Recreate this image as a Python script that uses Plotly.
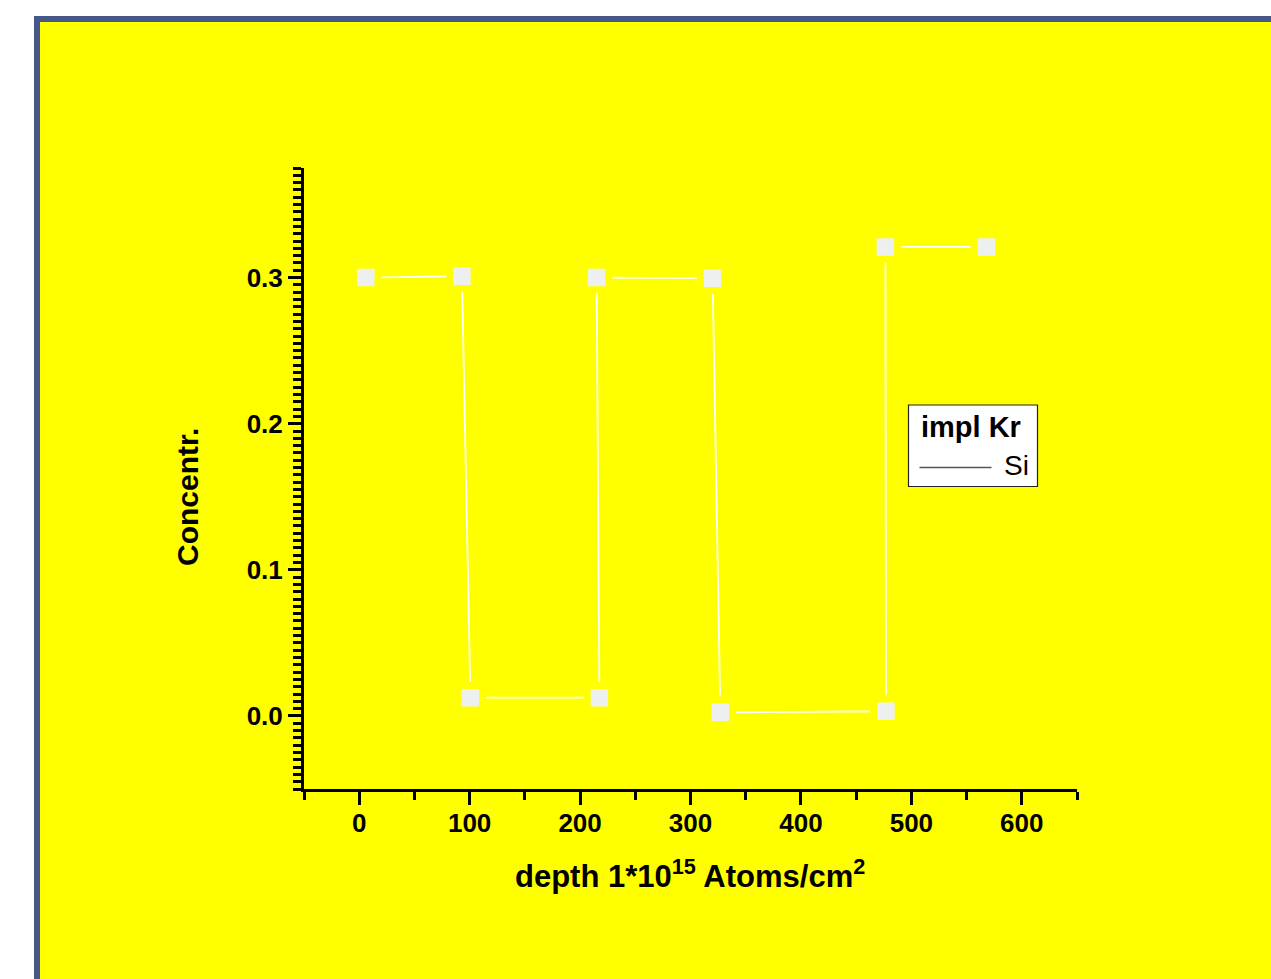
import plotly.graph_objects as go

# Depth profile of Si after Kr implantation
depth = [6, 93, 100.7, 217.5, 215, 320, 327, 477, 476.5, 568]
concentr = [0.300, 0.301, 0.0125, 0.0125, 0.300, 0.2996, 0.0025, 0.0032, 0.321, 0.321]

x_ticks = [0, 100, 200, 300, 400, 500, 600]
y_ticks = [0.0, 0.1, 0.2, 0.3]

W, H = 1271, 979
L, R, T, B = 304, 1077, 168, 789  # plot area in pixels

YELLOW = "#ffff00"
FRAME = "#46588a"
FONT = "Liberation Sans, Arial, sans-serif"


def px(x):
    return (x - L) / (R - L)


def py(y):
    return (B - y) / (B - T)


fig = go.Figure()

# line plus squares; the yellow marker outline leaves a gap around each point
fig.add_trace(go.Scatter(
    x=depth, y=concentr, mode="lines+markers",
    line=dict(color="#ffffff", width=1.8),
    marker=dict(symbol="square", size=24.5, color="#eef0f0",
                line=dict(color=YELLOW, width=7)),
    showlegend=False, hoverinfo="x+y",
))

shapes = [
    # dark frame and yellow page
    dict(type="rect", xref="paper", yref="paper", layer="below",
         x0=px(34), x1=px(W + 20), y0=py(16), y1=py(H + 20),
         fillcolor=FRAME, line=dict(width=0)),
    dict(type="rect", xref="paper", yref="paper", layer="below",
         x0=px(40), x1=px(W + 20), y0=py(22), y1=py(H + 20),
         fillcolor=YELLOW, line=dict(width=0)),
    # legend box
    dict(type="rect", xref="paper", yref="paper",
         x0=px(908.5), x1=px(1037.5), y0=py(405), y1=py(486.5),
         fillcolor="#ffffff", line=dict(color="#222222", width=1.2)),
    dict(type="line", xref="paper", yref="paper",
         x0=px(919.5), x1=px(991.5), y0=py(467.5), y1=py(467.5),
         line=dict(color="#555555", width=1.5)),
]

annotations = [
    dict(text="<b>impl Kr</b>", x=px(919), y=py(427), xref="paper", yref="paper",
         xanchor="left", yanchor="middle", showarrow=False,
         font=dict(family=FONT, size=29, color="#000000")),
    dict(text="Si", x=px(1031), y=py(465), xref="paper", yref="paper",
         xanchor="right", yanchor="middle", showarrow=False,
         font=dict(family=FONT, size=28, color="#000000")),
    dict(text="<b>depth 1*10<sup>15</sup> Atoms/cm<sup>2</sup></b>",
         x=px(690), y=py(874), xref="paper", yref="paper",
         xanchor="center", yanchor="middle", showarrow=False,
         font=dict(family=FONT, size=31, color="#000000")),
    dict(text="<b>Concentr.</b>", x=px(187), y=py(497), xref="paper", yref="paper",
         xanchor="center", yanchor="middle", showarrow=False, textangle=-90,
         font=dict(family=FONT, size=30, color="#000000")),
]

fig.update_layout(
    width=W, height=H,
    margin=dict(l=L, r=W - R, t=T, b=H - B, pad=0),
    paper_bgcolor="#ffffff",
    plot_bgcolor="rgba(0,0,0,0)",
    shapes=shapes,
    annotations=annotations,
    xaxis=dict(
        range=[-50, 650], tickmode="array", tickvals=x_ticks,
        ticktext=[str(v) for v in x_ticks],
        ticks="outside", ticklen=13, tickwidth=2.5, tickcolor="#000000",
        minor=dict(dtick=50, tick0=0, ticks="outside", ticklen=8,
                   tickwidth=2.5, tickcolor="#000000"),
        showline=True, linecolor="#000000", linewidth=3, mirror=False,
        showgrid=False, zeroline=False,
        tickfont=dict(family=FONT, size=26, color="#000000", weight="bold"),
        ticklabelstandoff=-4,
    ),
    yaxis=dict(
        range=[-0.05, 0.375], tickmode="array", tickvals=y_ticks,
        ticktext=[f"{v:.1f}" for v in y_ticks],
        ticks="outside", ticklen=13, tickwidth=2.5, tickcolor="#000000",
        minor=dict(dtick=0.005, tick0=0, ticks="outside", ticklen=8,
                   tickwidth=2.5, tickcolor="#000000"),
        showline=True, linecolor="#000000", linewidth=3, mirror=False,
        showgrid=False, zeroline=False,
        tickfont=dict(family=FONT, size=26, color="#000000", weight="bold"),
        ticklabelstandoff=0,
    ),
)

fig.write_html("out.html")
